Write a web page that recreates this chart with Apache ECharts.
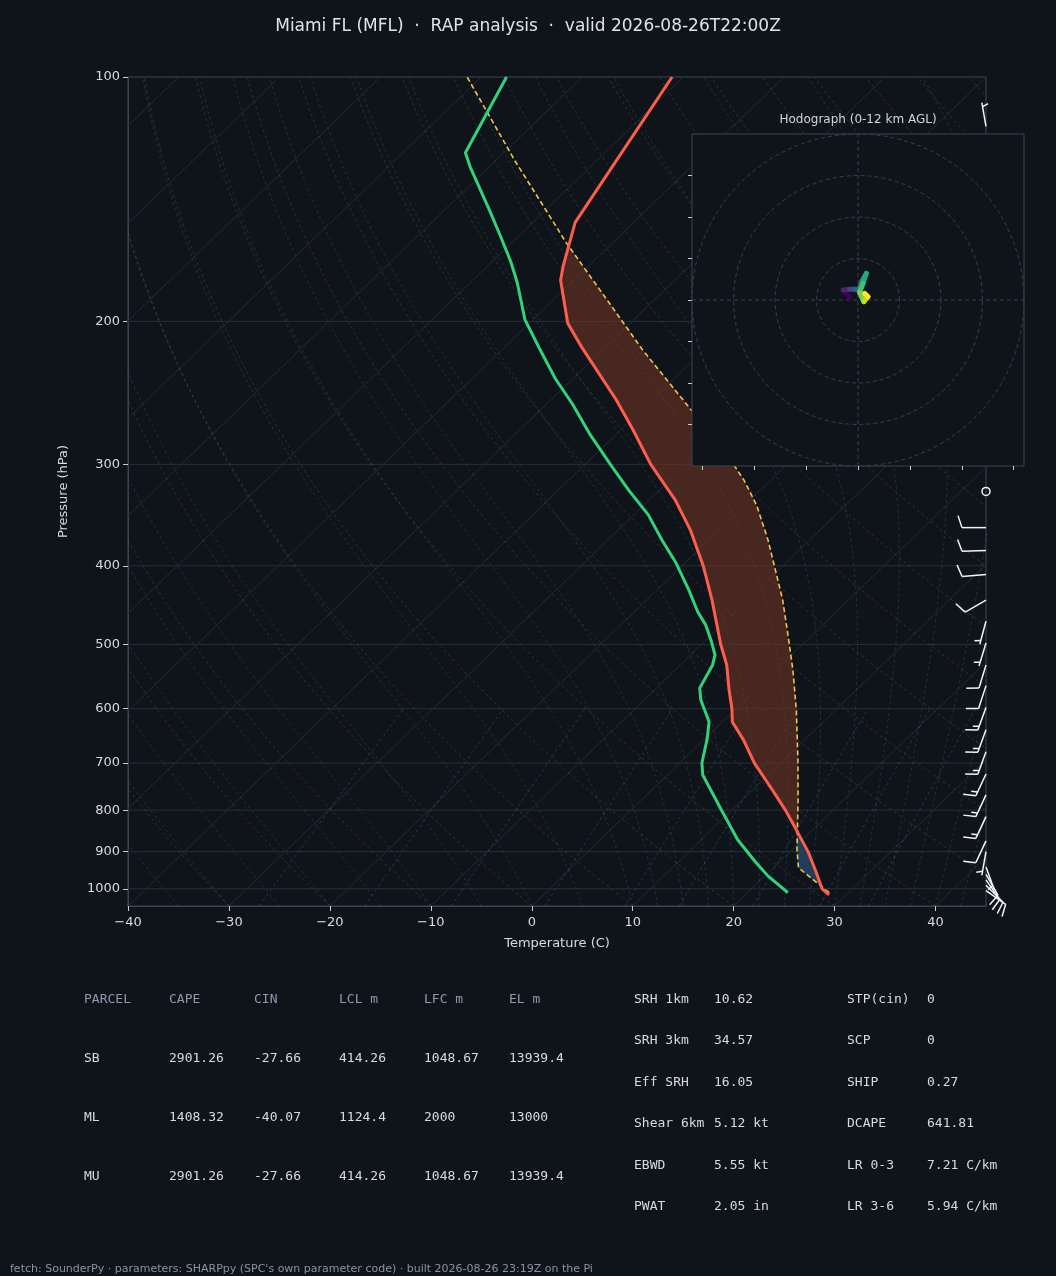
<!DOCTYPE html>
<html><head><meta charset="utf-8">
<script src="https://cdn.jsdelivr.net/npm/echarts@6/dist/echarts.min.js"></script>
<style>html,body{margin:0;padding:0;background:#0f141a;}#c{width:1056px;height:1276px;}</style>
</head><body><div id="c"></div>
<script>
// ---- Data ----
const tempP = [1017,1000,948,900,846,800,755,700,655,623,600,569,530,500,441,400,361,332,300,272,250,215,201,178,171,151,100];
const tempT = [28.3,27.0,24.4,21.8,18.4,15.3,11.9,7.4,3.9,1.0,-0.4,-2.6,-5.4,-8.1,-13.5,-17.9,-22.9,-27.4,-33.5,-38.8,-43.5,-52.4,-56.2,-61.3,-62.5,-65.8,-71.1];
const dewP = [1011,964,926,870,799,724,700,655,623,585,566,530,515,494,473,456,428,396,372,346,323,300,276,253,235,216,199,179,169,157,146,129,124,100];
const dewT = [24.0,20.3,17.6,13.6,8.9,3.5,2.2,0.3,-1.3,-4.4,-5.7,-6.8,-7.6,-9.5,-11.6,-13.7,-16.9,-21.0,-24.6,-28.6,-33.0,-37.5,-42.5,-47.4,-51.8,-56.4,-60.8,-65.4,-68.1,-71.8,-75.5,-81.9,-83.8,-87.5];
const parcelP = [1011,942,895,777,694,602,538,494,441,405,372,337,314,296,272,257,217,190,160,145,127,100];
const parcelT = [28.1,22.5,20.5,15.5,11.4,6.1,1.7,-1.8,-6.5,-10.3,-14.1,-18.8,-22.6,-26.1,-30.9,-35.1,-46.0,-54.1,-64.6,-70.3,-78.0,-91.4];
// wind barbs: pressure, direction (deg), speed (kt)
const windP   = [1005,990,975,960,940,900,873,815,766,722,678,637,598,562,530,498,468,441,410,383,359,324,290,250,200,150,115];
const windDir = [125,135,145,150,160,190,205,205,205,205,200,200,200,198,197,197,195,240,265,268,270,0,300,320,330,340,350];
const windSpd = [10,10,10,10,5,5,10,15,15,15,15,15,15,10,10,5,5,10,10,10,10,0,5,5,5,5,5];
// hodograph (kt)
const hodoU = [-2.0,-3.6,-2.0,-0.6,0.2,1.0,2.0,1.2,0.4,1.4,2.4,1.6];
const hodoV = [0.6,2.4,2.6,2.6,2.4,4.6,6.4,4.0,1.8,-0.4,0.8,1.6];
const hodoColors = ['#440154','#482475','#414487','#355f8d','#2a788e','#21918c','#22a884','#44bf70','#7ad151','#bddf26','#fde725'];
const pTicks = [100,200,300,400,500,600,700,800,900,1000];
const tTicks = [-40,-30,-20,-10,0,10,20,30,40];
const tableHead = ['PARCEL','CAPE','CIN','LCL m','LFC m','EL m'];
const tableRows = [['SB','2901.26','-27.66','414.26','1048.67','13939.4'],['ML','1408.32','-40.07','1124.4','2000','13000'],['MU','2901.26','-27.66','414.26','1048.67','13939.4']];
const params1 = [['SRH 1km','10.62'],['SRH 3km','34.57'],['Eff SRH','16.05'],['Shear 6km','5.12 kt'],['EBWD','5.55 kt'],['PWAT','2.05 in']];
const params2 = [['STP(cin)','0'],['SCP','0'],['SHIP','0.27'],['DCAPE','641.81'],['LR 0-3','7.21 C/km'],['LR 3-6','5.94 C/km']];

// ---- Skew-T transform ----
const PMAX = 1050, L0 = Math.log10(PMAX), SK = 85;
const ly = p => Math.log10(p);
const sx = (T,p) => T + SK*(L0 - ly(p))/(L0 - 2);
const prof = (P,T) => P.map((p,i)=>[sx(T[i],p), ly(p)]);
function interp(P,T,p){ const l=ly(p);
  for(let i=0;i<P.length-1;i++){ const a=ly(P[i]), b=ly(P[i+1]);
    if((l<=a&&l>=b)||(l>=a&&l<=b)){ const f=(l-a)/(b-a); return T[i]+f*(T[i+1]-T[i]); } }
  return l>ly(P[0])?T[0]:T[T.length-1]; }

const series = [];
const bgLine = (data,color,dash,w)=>series.push({type:'line',data,symbol:'none',silent:true,z:1,clip:true,animation:false,
  lineStyle:{color,width:w||1,type:dash?[3,3]:'solid'}});
pTicks.forEach(p=>bgLine([[-40,ly(p)],[45,ly(p)]],'#262f39',false));
for(let T=-140;T<=40;T+=10) bgLine([[sx(T,PMAX),L0],[sx(T,100),2]],'#232c35',false);
const pSamp=[]; for(let l=L0;l>=2-1e-9;l-=0.01) pSamp.push(Math.pow(10,l));
for(let t=-50;t<=200;t+=10){ const th=(t+273.15)*Math.pow(1000/PMAX,0.2857);
  bgLine(pSamp.map(p=>[sx(th*Math.pow(p/1000,0.2857)-273.15,p),ly(p)]),'rgba(150,110,60,0.32)',true); }
const es=Tc=>6.112*Math.exp(17.67*Tc/(Tc+243.5));
function moist(t0){ let T=t0+273.15, p=PMAX; const pts=[[sx(t0,p),ly(p)]];
  while(p>100){ const dp=-2; const Tc=T-273.15; const e=es(Tc); const rs=0.622*e/(p-e);
    const Lv=2.501e6,Rd=287.04,Cp=1005.7;
    const dTdp=(1/p)*(Rd*T+Lv*rs)/(Cp+Lv*Lv*rs*0.622/(Rd*T*T));
    T+=dTdp*dp; p+=dp; pts.push([sx(T-273.15,p),ly(p)]); }
  return pts; }
const mt0=[]; for(let t=-50;t<=10;t+=5) mt0.push(t); for(let t=12.5;t<=45;t+=2.5) mt0.push(t);
mt0.forEach(t=>bgLine(moist(t),'rgba(60,120,135,0.32)',true));
[0.4,1,2,4,7,10,16,24,32].forEach(w=>{ const pts=[]; for(let p=PMAX;p>=600;p-=10){ const e=w*p/(622+w); const g=Math.log(e/6.112);
  pts.push([sx(243.5*g/(17.67-g),p),ly(p)]); } bgLine(pts,'rgba(70,115,160,0.4)',true); });

function region(pBot,pTop,color){
  const n=100; const ps=[]; for(let i=0;i<=n;i++) ps.push(Math.pow(10, ly(pBot)+(ly(pTop)-ly(pBot))*i/n));
  series.push({type:'custom',z:2,silent:true,clip:true,data:[[0,0]],renderItem:(params,api)=>{
    const a=ps.map(p=>api.coord([sx(interp(parcelP,parcelT,p),p),ly(p)]));
    const b=ps.slice().reverse().map(p=>api.coord([sx(interp(tempP,tempT,p),p),ly(p)]));
    return {type:'polygon',shape:{points:a.concat(b)},style:{fill:color}}; }}); }
region(855,162,'rgba(110,52,38,0.6)');
region(1011,855,'rgba(40,75,110,0.75)');

series.push({type:'line',data:prof(parcelP,parcelT),symbol:'none',z:4,lineStyle:{color:'#f2c14e',width:1.6,type:[5,3]}});
series.push({type:'line',data:prof(tempP,tempT),symbol:'none',z:5,lineStyle:{color:'#ff5e4d',width:3}});
series.push({type:'line',data:prof(dewP,dewT),symbol:'none',z:5,lineStyle:{color:'#33d17a',width:3}});

series.push({type:'custom',z:6,silent:true,clip:false,data:windP.map((p,i)=>[45,ly(p),windSpd[i],windDir[i]]),
  renderItem:(params,api)=>{ const b=api.coord([api.value(0),api.value(1)]); const spd=api.value(2), d=api.value(3)*Math.PI/180;
    const st={stroke:'#f2f4f6',lineWidth:1.5,fill:'none'};
    if(spd<2.5) return {type:'circle',shape:{cx:b[0],cy:b[1],r:4},style:st};
    const L=24, ux=Math.sin(d), uy=-Math.cos(d); const bx=Math.cos(d), by=Math.sin(d);
    const ch=[{type:'line',shape:{x1:b[0],y1:b[1],x2:b[0]+L*ux,y2:b[1]+L*uy},style:st}];
    let pos=L; const full=Math.floor(spd/10); const half=(spd%10)>=5;
    for(let k=0;k<full;k++){ const x=b[0]+pos*ux,y=b[1]+pos*uy;
      ch.push({type:'line',shape:{x1:x,y1:y,x2:x+12*bx+4*ux,y2:y+12*by+4*uy},style:st}); pos-=4; }
    if(half){ if(full===0) pos-=4; const x=b[0]+pos*ux,y=b[1]+pos*uy;
      ch.push({type:'line',shape:{x1:x,y1:y,x2:x+6*bx+2*ux,y2:y+6*by+2*uy},style:st}); }
    return {type:'group',children:ch}; }});

const hz=110;
const hl=(data,color,dash,w)=>series.push({type:'line',xAxisIndex:1,yAxisIndex:1,data,symbol:'none',silent:true,z:hz,
  lineStyle:{color,width:w||1,type:dash?[4,3]:'solid'}});
[10,20,30,40].forEach(r=>{const pts=[];for(let a=0;a<=360;a+=4)pts.push([r*Math.cos(a*Math.PI/180),r*Math.sin(a*Math.PI/180)]);hl(pts,'#344150',true);});
hl([[-40,0],[40,0]],'#344150',true); hl([[0,-40],[0,40]],'#344150',true);
for(let i=0;i<hodoU.length-1;i++) series.push({type:'line',xAxisIndex:1,yAxisIndex:1,symbol:'none',silent:true,z:hz+1,
  data:[[hodoU[i],hodoV[i]],[hodoU[i+1],hodoV[i+1]]],lineStyle:{color:hodoColors[i],width:5,cap:'round'}});

const fmt = v=>String(v).replace('-','\u2212');
const graphics=[
  {type:'rect',z:100,shape:{x:692,y:134,width:332,height:332},style:{fill:'#0f141a',stroke:'#3a4552',lineWidth:1}},
  {type:'text',z:hz,left:'center',top:18,style:{text:'Miami FL (MFL)  \u00b7  RAP analysis  \u00b7  valid 2026-08-26T22:00Z',fill:'#dde3ea',font:'17px "DejaVu Sans"'}},
  {type:'text',z:hz,x:858,y:114,style:{text:'Hodograph (0-12 km AGL)',fill:'#d0d6dd',font:'12px "DejaVu Sans"',align:'center'}},
  {type:'text',x:10,y:1264,style:{text:"fetch: SounderPy \u00b7 parameters: SHARPpy (SPC's own parameter code) \u00b7 built 2026-08-26 23:19Z on the Pi",fill:'#8794a3',font:'11px "DejaVu Sans"'}}
];
const mono='13px "DejaVu Sans Mono"';
const cx=[84,169,254,339,424,509];
tableHead.forEach((t,i)=>graphics.push({type:'text',x:cx[i],y:993,style:{text:t,fill:'#8a9bb0',font:mono}}));
tableRows.forEach((r,j)=>r.forEach((t,i)=>graphics.push({type:'text',x:cx[i],y:1052+j*59,style:{text:t,fill:'#d6dbe1',font:mono}})));
params1.forEach((r,j)=>{graphics.push({type:'text',x:634,y:993+j*41.5,style:{text:r[0],fill:'#d6dbe1',font:mono}});
  graphics.push({type:'text',x:714,y:993+j*41.5,style:{text:r[1],fill:'#d6dbe1',font:mono}});});
params2.forEach((r,j)=>{graphics.push({type:'text',x:847,y:993+j*41.5,style:{text:r[0],fill:'#d6dbe1',font:mono}});
  graphics.push({type:'text',x:927,y:993+j*41.5,style:{text:r[1],fill:'#d6dbe1',font:mono}});});

const axCol='#3a4552', lab={color:'#d6dbe1',fontSize:13,fontFamily:'DejaVu Sans'};
const chart=echarts.init(document.getElementById('c'));
chart.setOption({
  backgroundColor:'#0f141a', animation:false,
  grid:[{left:128,top:77,width:858,height:829,show:true,borderColor:axCol,borderWidth:1,backgroundColor:'transparent'},
        {left:692,top:134,width:332,height:332}],
  xAxis:[{type:'value',min:-40,max:45,gridIndex:0,name:'Temperature (C)',nameLocation:'middle',nameGap:31,
      nameTextStyle:{color:'#d6dbe1',fontSize:13,fontFamily:'DejaVu Sans'},
      axisLine:{show:true,onZero:false,lineStyle:{color:axCol}},splitLine:{show:false},
      axisTick:{show:true,customValues:tTicks,length:5,lineStyle:{color:'#c8ced6'}},
      axisLabel:Object.assign({customValues:tTicks,formatter:fmt,margin:10},lab)},
    {type:'value',min:-40,max:40,gridIndex:1,z:hz,axisLine:{show:false,onZero:false},splitLine:{show:false},
      axisTick:{show:true,customValues:[-37.5,-25,-12.5,0,12.5,25,37.5],length:4,lineStyle:{color:'#c8ced6'}},axisLabel:{show:false}}],
  yAxis:[{type:'value',inverse:true,min:2,max:L0,gridIndex:0,name:'Pressure (hPa)',nameLocation:'middle',nameGap:58,
      nameTextStyle:{color:'#d6dbe1',fontSize:13,fontFamily:'DejaVu Sans'},
      axisLine:{show:true,onZero:false,lineStyle:{color:axCol}},splitLine:{show:false},
      axisTick:{show:true,customValues:pTicks.map(ly),length:5,lineStyle:{color:'#c8ced6'}},
      axisLabel:Object.assign({customValues:pTicks.map(ly),formatter:v=>String(Math.round(Math.pow(10,v))),margin:8},lab)},
    {type:'value',min:-40,max:40,gridIndex:1,z:hz,axisLine:{show:false,onZero:false},splitLine:{show:false},
      axisTick:{show:true,customValues:[-30,-20,-10,0,10,20,30],length:4,lineStyle:{color:'#c8ced6'}},axisLabel:{show:false}}],
  graphic:graphics,
  series
});
</script></body></html>
